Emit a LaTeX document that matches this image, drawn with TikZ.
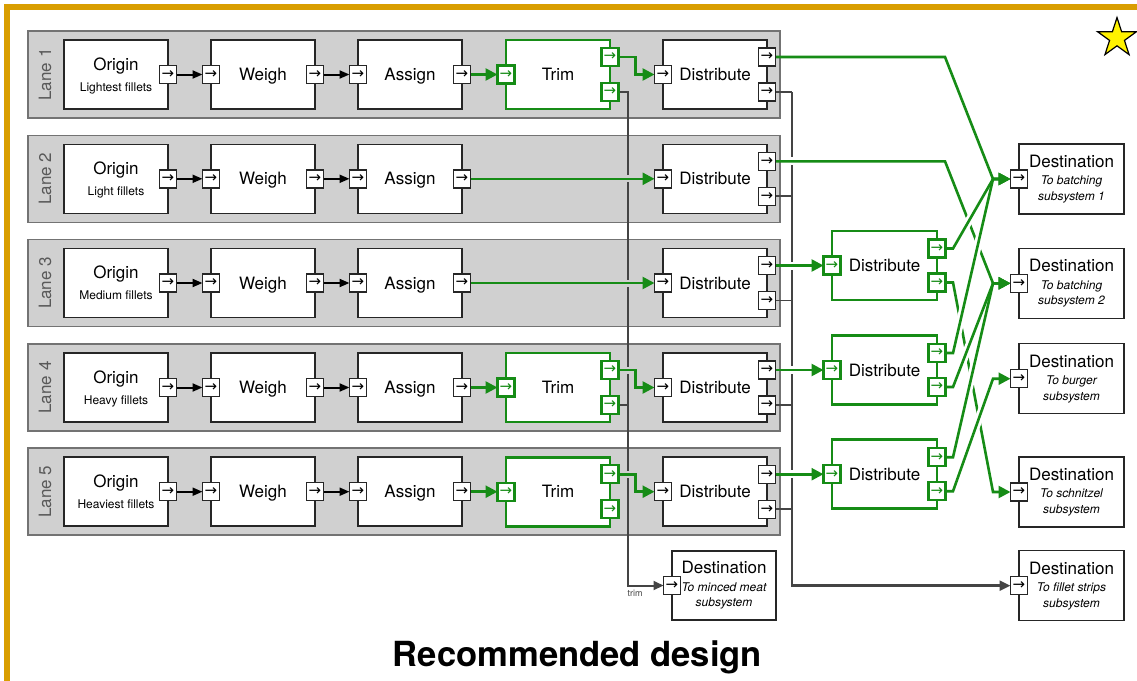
\documentclass[tikz,border=0pt]{standalone}
\usepackage{fontspec}
\setmainfont{TeX Gyre Heros}
\newfontfamily\arrowfont{DejaVu Sans}
\usetikzlibrary{arrows.meta,shapes.geometric}

\definecolor{framegold}{RGB}{217,158,0}
\definecolor{lanefill}{RGB}{208,208,208}
\definecolor{laneedge}{RGB}{115,115,115}
\definecolor{flowgreen}{RGB}{22,140,22}
\definecolor{wiregray}{RGB}{68,68,68}

\pgfdeclarelayer{back}
\pgfdeclarelayer{grey}
\pgfdeclarelayer{wires}
\pgfsetlayers{back,grey,wires,main}

\newcommand{\portarrow}{{\arrowfont →}}

\tikzset{
  lane/.style={draw=laneedge, fill=lanefill, line width=1.6pt, minimum width=752pt, minimum height=87pt, inner sep=0pt},
  lanelabel/.style={rotate=90, text=black!65, font=\fontsize{17}{17}\selectfont},
  base/.style={draw=black!85, fill=white, line width=1.5pt, minimum width=104pt, minimum height=69pt, inner sep=0pt, outer sep=0pt, align=center, font=\fontsize{17}{20}\selectfont},
  box/.style={base, text depth=0pt},
  gbox/.style={box, draw=flowgreen, line width=2.9pt},
  destbox/.style={base, minimum width=105pt, minimum height=70pt, font=\fontsize{12}{15.5}\selectfont\itshape},
  port/.style={draw=black!85, fill=white, line width=1.4pt, minimum width=17pt, minimum height=18pt, inner sep=0pt, outer sep=0pt, font=\fontsize{15}{15}\selectfont},
  gport/.style={port, draw=flowgreen, line width=2.4pt, text=flowgreen},
  bflow/.style={draw=black, line width=2pt, -{Triangle[length=10pt,width=8pt]}},
  gflow/.style={draw=flowgreen, line width=2.6pt, -{Triangle[length=12pt,width=12pt]}},
  lanegap/.style={preaction={draw=lanefill, line width=7pt, arrows=-}},
  gap/.style={draw=white, line width=8pt},
  stub/.style={draw=wiregray, line width=1.9pt},
  waste/.style={draw=wiregray, line width=2.5pt, -{Triangle[length=11pt,width=10pt]}},
  trimwire/.style={draw=wiregray, line width=2pt, -{Triangle[length=10pt,width=9pt]}},
}

\begin{document}
\begin{tikzpicture}[x=1pt,y=1pt]
  \useasboundingbox (0,0) rectangle (1137,-680);
  \begin{pgfonlayer}{back}
    \fill[white] (0,0) rectangle (1137,-680);
  \end{pgfonlayer}
  \draw[framegold, line width=5.5pt] (7,-7) rectangle (1141,-684);
  \node[star, star points=5, star point ratio=2.62, draw=black, line width=1.2pt, fill=yellow, minimum size=41pt, inner sep=0pt] (star) at (1117,-38) {};

  \coordinate (bustop) at (792,-92);
  \coordinate (kx) at (945,0);
  \coordinate (bx) at (953,0);
  \coordinate (jx) at (993,0);
  \coordinate (sx) at (884.5,0);

  % the five lanes
  \foreach \i/\y/\sub/\t in {1/74.5/Lightest fillets/1, 2/178.8/Light fillets/0, 3/283/Medium fillets/0, 4/387.5/Heavy fillets/1, 5/491.7/Heaviest fillets/1} {
    \begin{pgfonlayer}{back}
      \node[lane] (lane\i) at (404,-\y) {};
    \end{pgfonlayer}
    \node[lanelabel] (lbl\i) at (45,-\y) {Lane \i};
    \node[box] (or\i) at (116,-\y) {Origin\\[1pt]{\fontsize{12}{14}\selectfont \sub}};
    \node[box] (we\i) at (263,-\y) {Weigh};
    \node[box] (as\i) at (410,-\y) {Assign};
    \node[box] (di\i) at (715,-\y) {Distribute};
    \node[port] (or\i-o) at (or\i.east) {\portarrow};
    \node[port] (we\i-i) at (we\i.west) {\portarrow};
    \node[port] (we\i-o) at (we\i.east) {\portarrow};
    \node[port] (as\i-i) at (as\i.west) {\portarrow};
    \node[port] (as\i-o) at (as\i.east) {\portarrow};
    \node[port] (di\i-i) at (di\i.west) {\portarrow};
    \node[port] (di\i-a) at ([yshift=17.5pt]di\i.east) {\portarrow};
    \node[port] (di\i-b) at ([yshift=-17.5pt]di\i.east) {\portarrow};
    \begin{pgfonlayer}{wires}
      \draw[bflow] (or\i-o) -- (we\i-i);
      \draw[bflow] (we\i-o) -- (as\i-i);
    \end{pgfonlayer}
    \ifnum\t=1
      \node[gbox] (tr\i) at (558,-\y) {Trim};
      \node[gport] (tr\i-i) at (tr\i.west) {\portarrow};
      \node[gport] (tr\i-a) at ([yshift=17.5pt]tr\i.east) {\portarrow};
      \node[gport] (tr\i-b) at ([yshift=-17.5pt]tr\i.east) {\portarrow};
      \begin{pgfonlayer}{wires}
        \draw[gflow, lanegap] (as\i-o) -- (tr\i-i);
        \draw[gflow, lanegap] (tr\i-a.east) -- ++(17,0) |- (di\i-i);
      \end{pgfonlayer}
    \else
      \begin{pgfonlayer}{wires}
        \draw[gflow, lanegap] (as\i-o) -- (di\i-i);
      \end{pgfonlayer}
    \fi
  }

  % second distribution stage
  \foreach \n/\i in {A/3, B/4, C/5} {
    \node[gbox, minimum width=105pt] (s\n) at (di\i-a -| sx) {Distribute};
    \node[gport] (s\n-i) at (s\n.west) {\portarrow};
    \node[gport] (s\n-a) at ([yshift=17pt]s\n.east) {\portarrow};
    \node[gport] (s\n-b) at ([yshift=-17pt]s\n.east) {\portarrow};
  }

  % destinations
  \node[destbox] (dst1) at (1071.5,-179) {{\fontsize{17}{17}\selectfont\upshape Destination}\\[2pt]To batching\\subsystem 1};
  \node[destbox] (dst2) at (1071.5,-283.3) {{\fontsize{17}{17}\selectfont\upshape Destination}\\[2pt]To batching\\subsystem 2};
  \node[destbox] (dst3) at (1071.5,-378.7) {{\fontsize{17}{17}\selectfont\upshape Destination}\\[2pt]To burger\\subsystem};
  \node[destbox] (dst4) at (1071.5,-492) {{\fontsize{17}{17}\selectfont\upshape Destination}\\[2pt]To schnitzel\\subsystem};
  \node[destbox] (dst5) at (1071.5,-585.7) {{\fontsize{17}{17}\selectfont\upshape Destination}\\[2pt]To fillet strips\\subsystem};
  \node[destbox, minimum width=104pt, minimum height=69pt] (dstm) at (724,-585.5) {{\fontsize{17}{17}\selectfont\upshape Destination}\\[2pt]To minced meat\\subsystem};
  \foreach \d in {1,2,3,4,5,m}
    \node[port] (dp\d) at (dst\d.west) {\portarrow};

  \node[font=\fontsize{34.6}{40}\selectfont\bfseries, anchor=base] (title) at (577.5,-666) {Recommended design};

  % leftovers: grey wires
  \begin{pgfonlayer}{grey}
    \foreach \i in {1,...,5}
      \draw[stub] (di\i-b.east) -- (di\i-b.east -| bustop);
    \draw[waste] (bustop) |- (dp5);
    \draw[trimwire] (tr1-b.east) -- ++(9,0) coordinate (trimtop) |- (dpm);
    \draw[stub] (tr4-b.east) -- (tr4-b.east -| trimtop);
  \end{pgfonlayer}
  \node[font=\fontsize{9}{9}\selectfont, text=wiregray] (trimlbl) at (635,-593) {trim};

  % green flows to the destinations
  \begin{pgfonlayer}{wires}
    \foreach \i in {2,...,5}
      \draw[gap] ([xshift=9pt]di\i-a.east) -- ++(14,0);
    \draw[gflow] (di2-a.east) -- (di2-a.east -| kx) -- (dp2 -| jx) -- (dp2);
    \draw[gflow] (sA-b.east) -- (sA-b.east -| bx) -- (dp4 -| jx) -- (dp4);
    \foreach \i/\n in {3/A, 4/B, 5/C}
      \draw[gflow] (di\i-a) -- (s\n-i);
    \draw[gap, shorten >=10pt] (sA-a.east -| bx) -- (dp1 -| jx);
    \draw[gap, shorten >=10pt] (sB-a.east -| bx) -- (dp1 -| jx);
    \draw[gap, shorten >=10pt] (sB-b.east -| bx) -- (dp2 -| jx);
    \draw[gap, shorten >=10pt] (sC-a.east -| bx) -- (dp2 -| jx);
    \draw[gap, shorten >=10pt] (sC-b.east -| bx) -- (dp3 -| jx);
    \draw[gflow] (di1-a.east) -- (di1-a.east -| kx) -- (dp1 -| jx) -- (dp1);
    \draw[gflow] (sA-a.east) -- (sA-a.east -| bx) -- (dp1 -| jx) -- (dp1);
    \draw[gflow] (sB-a.east) -- (sB-a.east -| bx) -- (dp1 -| jx) -- (dp1);
    \draw[gflow] (sB-b.east) -- (sB-b.east -| bx) -- (dp2 -| jx) -- (dp2);
    \draw[gflow] (sC-a.east) -- (sC-a.east -| bx) -- (dp2 -| jx) -- (dp2);
    \draw[gflow] (sC-b.east) -- (sC-b.east -| bx) -- (dp3 -| jx) -- (dp3);
  \end{pgfonlayer}
\end{tikzpicture}
\end{document}
